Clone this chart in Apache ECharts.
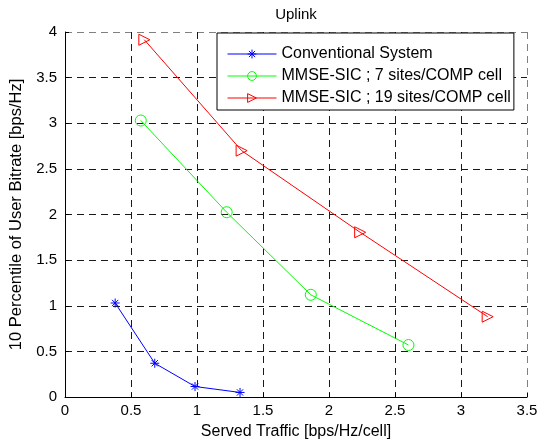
<!DOCTYPE html>
<html>
<head>
<meta charset="utf-8">
<script src="https://cdn.jsdelivr.net/npm/echarts@6/dist/echarts.min.js"></script>
<style>html,body{margin:0;padding:0;background:#fff;}#c{width:545px;height:445px;}</style>
</head>
<body>
<div id="c"></div>
<script>
const titleText = 'Uplink';
const xName = 'Served Traffic [bps/Hz/cell]';
const yName = '10 Percentile of User Bitrate [bps/Hz]';
const seriesNames = ['Conventional System', 'MMSE-SIC ; 7 sites/COMP cell', 'MMSE-SIC ; 19 sites/COMP cell'];
const convX = [0.38, 0.68, 0.985, 1.326];
const convY = [1.03, 0.37, 0.115, 0.05];
const sic7X = [0.574, 1.225, 1.862, 2.602];
const sic7Y = [3.03, 2.025, 1.12, 0.57];
const sic19X = [0.601, 1.338, 2.236, 3.202];
const sic19Y = [3.915, 2.70, 1.805, 0.88];
const xTicks = [0, 0.5, 1, 1.5, 2, 2.5, 3, 3.5];
const yTicks = [0, 0.5, 1, 1.5, 2, 2.5, 3, 3.5, 4];

const pair = (xs, ys) => xs.map((x, i) => [x, ys[i]]);
const star = 'path://M5,0L5,10M0,5L10,5M1.5,1.5L8.5,8.5M8.5,1.5L1.5,8.5';
const tri = 'path://M0,0L10,5L0,10Z';
const font = 'Liberation Sans, Arial, sans-serif';
const colors = ['#0000ff', '#00ff00', '#ff0000'];
const symbols = [star, 'circle', tri];
const gridColors = n => Array.from({length: n}, (_, i) => i === n - 1 ? '#808080' : '#1a1a1a');

const chart = echarts.init(document.getElementById('c'), null, {renderer: 'canvas'});
chart.setOption({
  backgroundColor: '#fff',
  animation: false,
  graphic: [{
    type: 'text', x: 296, y: 7,
    style: {text: titleText, fill: '#000', fontSize: 15, fontFamily: font, align: 'center', verticalAlign: 'top'}
  }],
  legend: {
    orient: 'vertical', left: 217, top: 33,
    borderColor: '#000', borderWidth: 1, backgroundColor: '#fff',
    padding: [13, 3, 4, 10], itemWidth: 49, itemHeight: 11, itemGap: 6,
    textStyle: {fontSize: 16, color: '#000', fontFamily: font},
    data: seriesNames.map((n, i) => ({
      name: n,
      itemStyle: {color: 'transparent', borderColor: colors[i], borderWidth: 1},
      lineStyle: {color: colors[i], width: 1}
    }))
  },
  grid: {left: 65, right: 18, top: 32, bottom: 48},
  xAxis: {
    type: 'value', min: 0, max: 3.5, interval: 0.5,
    name: xName, nameLocation: 'middle', nameGap: 27,
    nameTextStyle: {fontSize: 16, color: '#000', fontFamily: font},
    axisLine: {show: true, lineStyle: {color: '#000', width: 1}},
    axisTick: {show: true, inside: true, length: 4, lineStyle: {color: '#000'}},
    axisLabel: {fontSize: 15, color: '#000', fontFamily: font, margin: 6,
      formatter: v => String(xTicks.find(t => Math.abs(t - v) < 1e-9) ?? v)},
    splitLine: {show: true, lineStyle: {color: gridColors(xTicks.length), type: [7, 5], width: 1}}
  },
  yAxis: {
    type: 'value', min: 0, max: 4, interval: 0.5,
    name: yName, nameLocation: 'middle', nameGap: 38,
    nameTextStyle: {fontSize: 16.5, color: '#000', fontFamily: font},
    axisLine: {show: true, lineStyle: {color: '#000', width: 1}},
    axisTick: {show: true, inside: true, length: 4, lineStyle: {color: '#000'}},
    axisLabel: {fontSize: 15, color: '#000', fontFamily: font, margin: 8,
      formatter: v => String(yTicks.find(t => Math.abs(t - v) < 1e-9) ?? v)},
    splitLine: {show: true, lineStyle: {color: gridColors(yTicks.length), type: [7, 5], width: 1}}
  },
  series: [
    {name: seriesNames[0], type: 'line', data: pair(convX, convY),
      symbol: symbols[0], symbolSize: 9,
      lineStyle: {color: colors[0], width: 1},
      itemStyle: {color: 'transparent', borderColor: colors[0], borderWidth: 1}},
    {name: seriesNames[1], type: 'line', data: pair(sic7X, sic7Y),
      symbol: symbols[1], symbolSize: 11,
      lineStyle: {color: colors[1], width: 1},
      itemStyle: {color: 'transparent', borderColor: colors[1], borderWidth: 1}},
    {name: seriesNames[2], type: 'line', data: pair(sic19X, sic19Y),
      symbol: symbols[2], symbolSize: 11,
      lineStyle: {color: colors[2], width: 1},
      itemStyle: {color: 'transparent', borderColor: colors[2], borderWidth: 1}}
  ]
});
</script>
</body>
</html>
